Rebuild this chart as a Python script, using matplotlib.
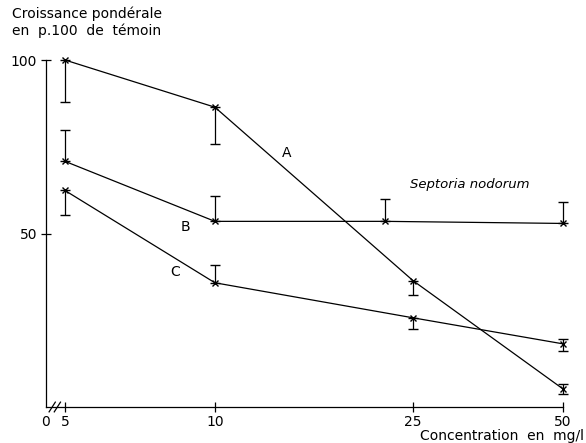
import matplotlib
matplotlib.use("Agg")
import matplotlib.pyplot as plt
from matplotlib.ticker import FixedLocator, NullLocator, FixedFormatter
import matplotlib.transforms as mtransforms

# Data (concentration in mg/l, growth in % of control)
conc_A = [5, 10, 25, 50]
val_A = [100, 86.4, 36.4, 5.2]
err_A_low = [12, 10.7, 4.0, 1.5]
err_A_up = [0, 0, 0, 1.5]

conc_B = [5, 10, 22, 50]
val_B = [70.8, 53.5, 53.5, 52.9]
err_B_low = [0, 0, 0, 0]
err_B_up = [9.0, 7.2, 6.3, 6.3]

conc_C = [5, 10, 25, 50]
val_C = [62.4, 35.8, 25.7, 18.2]
err_C_low = [7.2, 0, 3.2, 2.0]
err_C_up = [0, 5.2, 0, 1.5]

x_ticks = [5, 10, 25, 50]
x_ticklabels = ["5", "10", "25", "50"]
y_ticks = [50, 100]
y_ticklabels = ["50", "100"]

plt.rcParams['font.family'] = ['DejaVu Sans']
fig = plt.figure(figsize=(5.86, 4.43), dpi=100)
ax = fig.add_axes([46/586, 1-407/443, (563-46)/586, (407-60)/443])

x_left = 4.58
ax.set_xscale('log')
ax.set_xlim(x_left, 50)
ax.set_ylim(0, 100)

common = dict(color='black', lw=0.9, marker='x', ms=5, mew=1.0,
              ecolor='black', elinewidth=0.9, capsize=3.5, capthick=0.9,
              clip_on=False)
for xs, ys, lo, up in [(conc_A, val_A, err_A_low, err_A_up),
                       (conc_B, val_B, err_B_low, err_B_up),
                       (conc_C, val_C, err_C_low, err_C_up)]:
    eb = ax.errorbar(xs, ys, yerr=[lo, up], **common)
    for art in eb.lines[1] + eb.lines[2]:
        art.set_clip_on(False)

for s in ['top', 'right']:
    ax.spines[s].set_visible(False)
for s in ['left', 'bottom']:
    ax.spines[s].set_linewidth(0.9)

ax.xaxis.set_major_locator(FixedLocator(x_ticks))
ax.xaxis.set_major_formatter(FixedFormatter(x_ticklabels))
ax.xaxis.set_minor_locator(NullLocator())
ax.yaxis.set_major_locator(FixedLocator(y_ticks))
ax.yaxis.set_major_formatter(FixedFormatter(y_ticklabels))
ax.yaxis.set_minor_locator(NullLocator())
ax.tick_params(axis='both', direction='inout', length=7, width=0.9,
               labelsize=10, pad=3)
ax.tick_params(axis='x', pad=2)

# "0" at origin
ax.text(x_left, -0.022, "0", transform=mtransforms.blended_transform_factory(ax.transData, ax.transAxes),
        ha='center', va='top', fontsize=10)

# axis break marks
for dx in (0.012, 0.022):
    ax.plot([dx - 0.006, dx + 0.006], [-0.014, 0.014], transform=ax.transAxes,
            color='black', lw=0.9, clip_on=False)

fig.text(12/586, 1-14/443, "Croissance pondérale", ha='left', va='center', fontsize=10)
fig.text(12/586, 1-31/443, "en  p.100  de  témoin", ha='left', va='center', fontsize=10)
fig.text(584/586, 1-436/443, "Concentration  en  mg/l", ha='right', va='center', fontsize=10)

ax.text(0.82, 0.64, "Septoria nodorum", transform=ax.transAxes, fontsize=9.5,
        style='italic', ha='center', va='center')
ax.text(0.465, 0.733, "A", transform=ax.transAxes, fontsize=10, ha='center', va='center')
ax.text(0.27, 0.52, "B", transform=ax.transAxes, fontsize=10, ha='center', va='center')
ax.text(0.25, 0.39, "C", transform=ax.transAxes, fontsize=10, ha='center', va='center')

fig.savefig("out.png", dpi=100)
